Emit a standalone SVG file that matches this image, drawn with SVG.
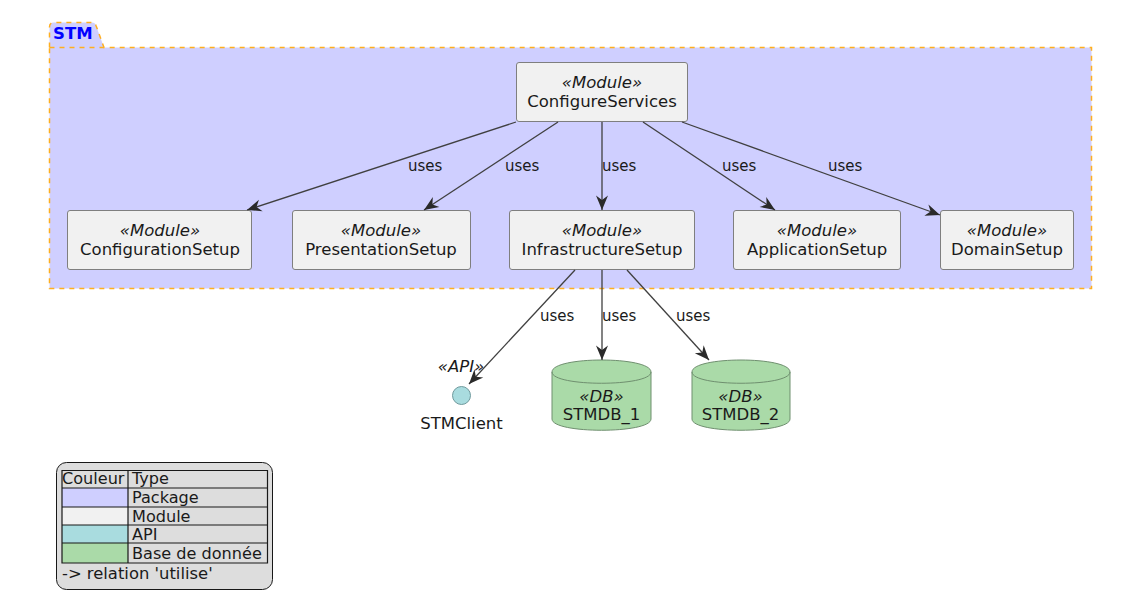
<svg xmlns="http://www.w3.org/2000/svg" width="1130" height="614" viewBox="0 0 1130 614">
<style>
text{font-family:"DejaVu Sans",sans-serif;font-size:16.500px;fill:#1a1a1a}
.c{text-anchor:middle}
.s{font-style:italic}
.u{font-size:15px}
.l{font-size:16.100px}
.box{fill:#f1f1f1;stroke:#7f7f7f;stroke-width:1}
.db{fill:#aadaa8;stroke:#6f8f6f;stroke-width:1}
.e{fill:none;stroke:#404040;stroke-width:1.300}
.g{stroke:#181818;stroke-width:1.200;fill:none}
</style>
<defs>
<marker id="a" markerUnits="userSpaceOnUse" markerWidth="16" markerHeight="14" refX="15" refY="6.500" orient="auto"><path d="M15 6.500L0.500 0.500L5 6.500L0.500 12.500Z" fill="#2a2a2a"/></marker>
</defs>
<g id="STM">
<path d="M49.500 47.500V27Q49.500 22.500 54 22.500H92Q95 22.500 96 25.500L104 47.500H1091.500V288.500H49.500Z" fill="#cfcfff" stroke="#ffaf1f" stroke-width="1.500" stroke-dasharray="5 5"/>
<path d="M49.500 47.500H104" fill="none" stroke="#ffaf1f" stroke-width="1.500" stroke-dasharray="5 5"/>
<text x="53" y="39" style="font-weight:bold;fill:#0000ff">STM</text>
</g>
<g id="ConfigureServices"><rect class="box" x="516.500" y="62.500" width="171" height="59" rx="2.500"/><text class="c s" x="602" y="88">«Module»</text><text class="c" x="602" y="107">ConfigureServices</text></g>
<g id="ConfigurationSetup"><rect class="box" x="67.500" y="210.500" width="184" height="59" rx="2.500"/><text class="c s" x="160" y="236">«Module»</text><text class="c" x="160" y="255">ConfigurationSetup</text></g>
<g id="PresentationSetup"><rect class="box" x="292.500" y="210.500" width="178" height="59" rx="2.500"/><text class="c s" x="381" y="236">«Module»</text><text class="c" x="381" y="255">PresentationSetup</text></g>
<g id="InfrastructureSetup"><rect class="box" x="509.500" y="210.500" width="185" height="59" rx="2.500"/><text class="c s" x="602" y="236">«Module»</text><text class="c" x="602" y="255">InfrastructureSetup</text></g>
<g id="ApplicationSetup"><rect class="box" x="733.500" y="210.500" width="167" height="59" rx="2.500"/><text class="c s" x="817" y="236">«Module»</text><text class="c" x="817" y="255">ApplicationSetup</text></g>
<g id="DomainSetup"><rect class="box" x="940.500" y="210.500" width="133" height="59" rx="2.500"/><text class="c s" x="1007" y="236">«Module»</text><text class="c" x="1007" y="255">DomainSetup</text></g>
<g id="STMClient"><circle cx="461.500" cy="395.500" r="9" fill="#a9dcdf" stroke="#6f9a9d"/><text class="c s" x="461" y="372">«API»</text><text class="c" x="461.500" y="429">STMClient</text></g>
<g id="STMDB_1"><path class="db" d="M552 372C552 356 651 356 651 372V419C651 434 552 434 552 419Z"/><path class="db" style="fill:none" d="M552 372C552 387 651 387 651 372"/><text class="c s" x="601.500" y="402">«DB»</text><text class="c" x="601.500" y="420">STMDB_1</text></g>
<g id="STMDB_2"><path class="db" d="M692 372C692 356 790 356 790 372V419C790 434 692 434 692 419Z"/><path class="db" style="fill:none" d="M692 372C692 387 790 387 790 372"/><text class="c s" x="740.500" y="402">«DB»</text><text class="c" x="740.500" y="420">STMDB_2</text></g>
<g id="connectors">
<path class="e" marker-end="url(#a)" d="M516 122L247 210"/>
<path class="e" marker-end="url(#a)" d="M558 122L424 210"/>
<path class="e" marker-end="url(#a)" d="M602 122V210"/>
<path class="e" marker-end="url(#a)" d="M643 122L775 210"/>
<path class="e" marker-end="url(#a)" d="M682 122L940 215"/>
<path class="e" marker-end="url(#a)" d="M575 270L469 384"/>
<path class="e" marker-end="url(#a)" d="M602 270V360"/>
<path class="e" marker-end="url(#a)" d="M627 270L709 360"/>
<text class="u" x="408" y="171">uses</text><text class="u" x="505" y="171">uses</text><text class="u" x="602" y="171">uses</text><text class="u" x="722" y="171">uses</text><text class="u" x="828" y="171">uses</text>
<text class="u" x="540" y="321">uses</text><text class="u" x="602" y="321">uses</text><text class="u" x="676" y="321">uses</text>
</g>
<g id="legend">
<rect x="56.500" y="462.500" width="216" height="127" rx="10" fill="#dddddd" stroke="#181818"/>
<rect x="62" y="488" width="66" height="19" fill="#cfcfff"/>
<rect x="62" y="507" width="66" height="18" fill="#f1f1f1"/>
<rect x="62" y="525" width="66" height="18" fill="#a9dcdf"/>
<rect x="62" y="543" width="66" height="20" fill="#aadaa8"/>
<path class="g" d="M62 470.500H267.500V563H62ZM62 488H267.500M62 507H267.500M62 525H267.500M62 543H267.500M128 470.500V563"/>
<text class="l" x="62" y="484">Couleur</text><text class="l" x="132" y="484">Type</text>
<text class="l" x="132" y="503">Package</text><text class="l" x="132" y="522">Module</text><text class="l" x="132" y="540">API</text><text class="l" x="132" y="559">Base de donnée</text>
<text class="l" style="font-size:16.400px" x="62" y="579">-&gt; relation 'utilise'</text>
</g>
</svg>
